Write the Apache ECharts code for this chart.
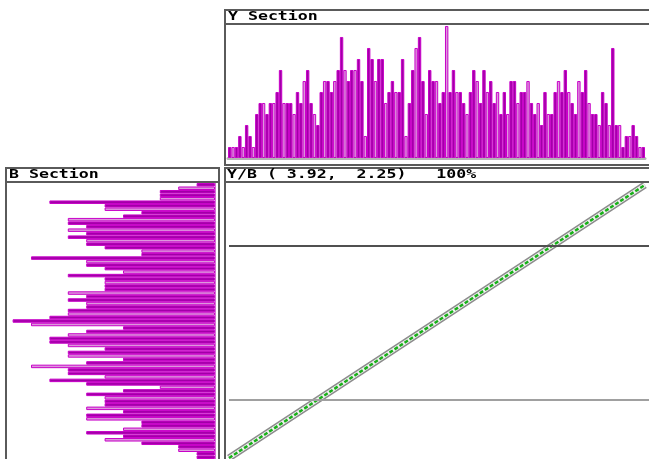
<!DOCTYPE html>
<html>
<head>
<meta charset="utf-8">
<script src="https://cdn.jsdelivr.net/npm/echarts@6/dist/echarts.min.js"></script>
<style>html,body{margin:0;padding:0;background:#fff;}#c{width:649px;height:459px;}</style>
</head>
<body>
<div id="c"></div>
<script>
// ---- data ----
const ySectionCounts = [1,1,1,2,1,3,2,1,4,5,5,4,5,5,6,8,5,5,5,4,6,5,7,8,5,4,3,6,7,7,6,7,8,11,
  8,7,8,8,9,7,2,10,9,7,9,9,5,6,7,6,6,9,2,5,8,10,11,
  7,4,8,7,7,5,6,12,6,8,6,6,5,4,6,8,7,5,8,6,7,5,6,4,6,4,7,7,5,6,6,7,5,4,5,3,6,4,4,6,7,6,8,6,5,4,7,6,8,5,4,4,3,6,5,3,10,3,3,1,2,2,3,2,1,1];
const bSectionCounts = [1,2,3,3,3,9,6,6,4,5,8,8,7,8,7,8,7,7,6,4,4,10,7,7,6,5,8,6,6,6,6,8,7,8,7,
  7,8,8,9,11,10,5,7,8,9,9,8,6,8,8,5,7,10,8,8,6,9,7,3,5,7,6,6,6,7,5,7,7,4,4,5,7,5,6,4,2,2,1,1];
const bValues = [0, 25, 50, 75, 100];
const yValues = [0, 25, 50, 75, 100];
const refLevels = [77.7, 21.5];
const titleY = 'Y Section';
const titleB = 'B Section';
const titleYB = 'Y/B ( 3.92,  2.25)   100%';

const dark = '#a000a6', light = '#dc98dc', edge = '#c800c8';
const fillFn = p => (p.dataIndex % 3 === 1 ? light : dark);

const chart = echarts.init(document.getElementById('c'), null, {renderer: 'canvas'});
const frame = '#5a5a5a';
const font = 'bold 12px "DejaVu Sans Mono"';
function titleText(x, y, s) {
  return {type: 'text', x: x, y: y, scaleX: 1.38, scaleY: 1, z: 20,
    style: {text: s, font: font, fill: '#000', textVerticalAlign: 'middle'}};
}
chart.setOption({
  animation: false,
  backgroundColor: '#fff',
  grid: [
    {left: 228, top: 24, width: 417, height: 134},
    {left: 8, top: 183, width: 207, height: 277},
    {left: 229, top: 185, width: 420, height: 273}
  ],
  xAxis: [
    {gridIndex: 0, type: 'category', data: ySectionCounts.map((v, i) => i),
     axisLine: {lineStyle: {color: '#b4b4b4', width: 3}}, axisTick: {show: false}, axisLabel: {show: false}},
    {gridIndex: 1, type: 'value', min: 0, max: 11.25, inverse: true, show: false},
    {gridIndex: 2, type: 'value', min: 0, max: 101, show: false}
  ],
  yAxis: [
    {gridIndex: 0, type: 'value', min: 0, max: 12.18, show: false},
    {gridIndex: 1, type: 'category', inverse: true, position: 'right', data: bSectionCounts.map((v, i) => i),
     axisLine: {lineStyle: {color: '#d070d0', width: 1}}, axisTick: {show: false}, axisLabel: {show: false}},
    {gridIndex: 2, type: 'value', min: 0, max: 100, show: false}
  ],
  series: [
    {type: 'bar', xAxisIndex: 0, yAxisIndex: 0, data: ySectionCounts, barCategoryGap: '0%',
     itemStyle: {color: fillFn, borderColor: edge, borderWidth: 1}},
    {type: 'bar', xAxisIndex: 1, yAxisIndex: 1, data: bSectionCounts, barCategoryGap: '0%',
     itemStyle: {color: fillFn, borderColor: edge, borderWidth: 1}},
    {type: 'line', xAxisIndex: 2, yAxisIndex: 2, data: bValues.map((b, i) => [b, yValues[i]]),
     symbol: 'none', lineStyle: {color: '#8c8c8c', width: 7}, z: 2,
     markLine: {silent: true, symbol: 'none', label: {show: false},
       data: [{yAxis: refLevels[0], lineStyle: {color: '#505050', width: 2, type: 'solid'}},
              {yAxis: refLevels[1], lineStyle: {color: '#a0a0a0', width: 2, type: 'solid'}}]}},
    {type: 'line', xAxisIndex: 2, yAxisIndex: 2, data: bValues.map((b, i) => [b, yValues[i]]),
     symbol: 'none', lineStyle: {color: '#f0f0f0', width: 4}, z: 3},
    {type: 'line', xAxisIndex: 2, yAxisIndex: 2, data: bValues.map((b, i) => [b, yValues[i]]),
     symbol: 'none', lineStyle: {color: '#18b018', width: 2.5, type: [4, 2]}, z: 4}
  ],
  graphic: [
    {type: 'rect', shape: {x: 225, y: 10, width: 440, height: 155}, z: 10,
     style: {fill: null, stroke: frame, lineWidth: 2}},
    {type: 'line', shape: {x1: 225, y1: 24, x2: 665, y2: 24}, z: 10, style: {stroke: frame, lineWidth: 2}},
    {type: 'rect', shape: {x: 6, y: 168, width: 213, height: 310}, z: 10,
     style: {fill: null, stroke: frame, lineWidth: 2}},
    {type: 'line', shape: {x1: 6, y1: 182, x2: 219, y2: 182}, z: 10, style: {stroke: frame, lineWidth: 2}},
    {type: 'rect', shape: {x: 225, y: 168, width: 440, height: 310}, z: 10,
     style: {fill: null, stroke: frame, lineWidth: 2}},
    {type: 'line', shape: {x1: 225, y1: 182, x2: 665, y2: 182}, z: 10, style: {stroke: frame, lineWidth: 2}},
    titleText(228, 17, titleY),
    titleText(9, 175, titleB),
    titleText(227, 175, titleYB)
  ]
});
</script>
</body>
</html>
